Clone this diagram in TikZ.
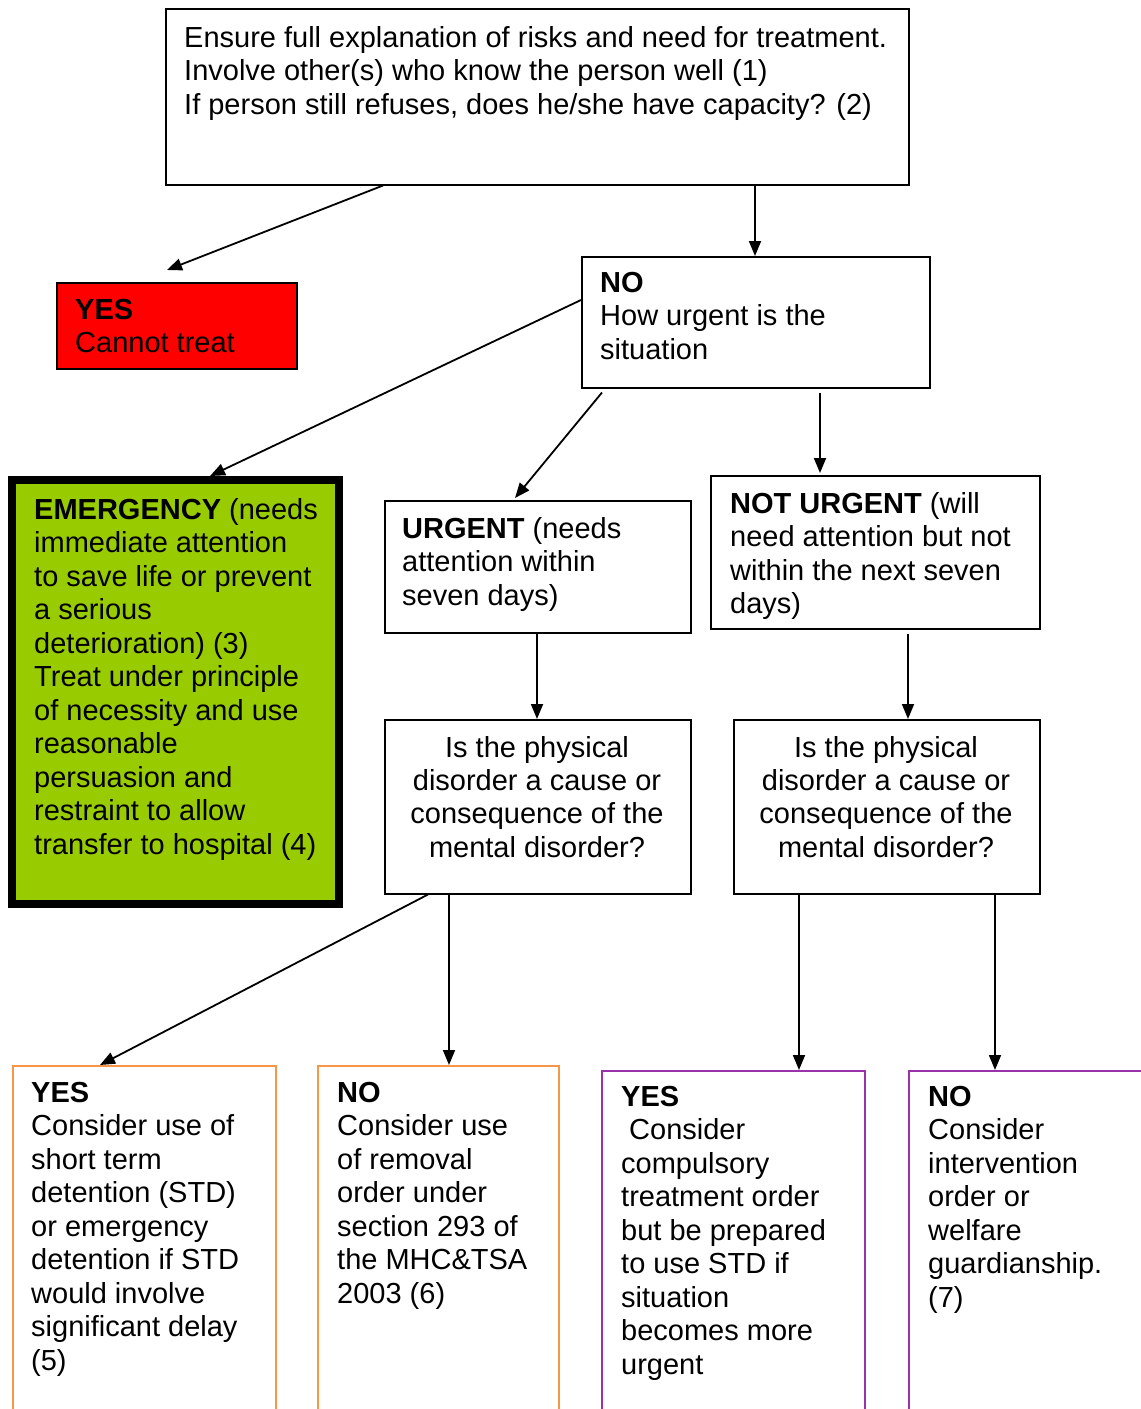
\documentclass[tikz,border=0pt]{standalone}
\usepackage{fontspec}
\setmainfont{Liberation Sans}
\usetikzlibrary{arrows.meta}
\definecolor{redbox}{RGB}{255,0,0}
\definecolor{greenbox}{RGB}{153,204,0}
\definecolor{orangeline}{RGB}{247,150,70}
\definecolor{purpleline}{RGB}{153,51,170}
\newcommand{\lefttext}[1]{\parbox[t]{760pt}{\raggedright #1}}
\newcommand{\centtext}[1]{\parbox[t]{300pt}{\centering #1}}
\tikzset{
  box/.style={draw=black, line width=1.5pt, rectangle, anchor=north west, inner sep=0pt},
  obox/.style={draw=orangeline, line width=1.8pt, rectangle, anchor=north west, inner sep=0pt},
  pbox/.style={draw=purpleline, line width=1.8pt, rectangle, anchor=north west, inner sep=0pt},
  txt/.style={inner sep=0pt, anchor=base west, font=\fontsize{29pt}{33.5pt}\selectfont},
  ctxt/.style={inner sep=0pt, anchor=base, font=\fontsize{29pt}{33.4pt}\selectfont},
  arr/.style={draw=black, line width=1.8pt, -{Triangle[length=15pt,width=12pt]}}
}
\begin{document}
\begin{tikzpicture}[x=1pt,y=-1pt]
\useasboundingbox (0,0) rectangle (1141,1409);
\clip (0,0) rectangle (1141,1409);
\fill[white] (0,0) rectangle (1141,1409);
% boxes
\node[box, minimum width=743pt, minimum height=176pt] (top) at (165,8) {};
\node[box, fill=redbox, minimum width=240pt, minimum height=86pt] (red) at (56,282) {};
\node[box, minimum width=348pt, minimum height=131pt] (no) at (581,256) {};
\node[box, fill=greenbox, line width=8pt, minimum width=327pt, minimum height=424pt] (emg) at (8,476) {};
\node[box, minimum width=306pt, minimum height=132pt] (urg) at (384,500) {};
\node[box, minimum width=329pt, minimum height=153pt] (nurg) at (710,475) {};
\node[box, minimum width=306pt, minimum height=174pt] (q1) at (384,719) {};
\node[box, minimum width=306pt, minimum height=174pt] (q2) at (733,719) {};
\node[obox, minimum width=263pt, minimum height=400pt] (b1) at (12,1065) {};
\node[obox, minimum width=241pt, minimum height=400pt] (b2) at (317,1065) {};
\node[pbox, minimum width=263pt, minimum height=400pt] (b3) at (601,1070) {};
\node[pbox, minimum width=262pt, minimum height=400pt] (b4) at (908,1070) {};
% texts
\node[txt] (ttop) at (184,47) {\lefttext{Ensure full explanation of risks and need for treatment.\\Involve other(s) who know the person well (1)\\If person still refuses, does he/she have capacity? (2)}};
\node[txt] (tred) at (75,319) {\lefttext{\textbf{YES}\\Cannot treat}};
\node[txt] (tno) at (600,292) {\lefttext{\textbf{NO}\\How urgent is the\\situation}};
\node[txt] (temg) at (34,519) {\lefttext{\textbf{EMERGENCY} (needs\\immediate attention\\to save life or prevent\\a serious\\deterioration) (3)\\Treat under principle\\of necessity and use\\reasonable\\persuasion and\\restraint to allow\\transfer to hospital (4)}};
\node[txt] (turg) at (402,538) {\lefttext{\textbf{URGENT} (needs\\attention within\\seven days)}};
\node[txt] (tnurg) at (730,513) {\lefttext{\textbf{NOT URGENT} (will\\need attention but not\\within the next seven\\days)}};
\node[ctxt] (tq1) at (537,757) {\centtext{Is the physical\\disorder a cause or\\consequence of the\\mental disorder?}};
\node[ctxt] (tq2) at (886,757) {\centtext{Is the physical\\disorder a cause or\\consequence of the\\mental disorder?}};
\node[txt] (tb1) at (31,1102) {\lefttext{\textbf{YES}\\Consider use of\\short term\\detention (STD)\\or emergency\\detention if STD\\would involve\\significant delay\\(5)}};
\node[txt] (tb2) at (337,1102) {\lefttext{\textbf{NO}\\Consider use\\of removal\\order under\\section 293 of\\the MHC\&TSA\\2003 (6)}};
\node[txt] (tb3) at (621,1106) {\lefttext{\textbf{YES}\\\hspace*{8pt}Consider\\compulsory\\treatment order\\but be prepared\\to use STD if\\situation\\becomes more\\urgent}};
\node[txt] (tb4) at (928,1106) {\lefttext{\textbf{NO}\\Consider\\intervention\\order or\\welfare\\guardianship.\\(7)}};
% connectors
\draw[arr] ([xshift=218pt]top.south west) -- ([xshift=111pt,yshift=12pt]red.north west);
\draw[arr] ([xshift=590pt]top.south west) -- ([xshift=174pt]no.north west);
\draw[arr] ([yshift=-44pt]no.north west) -- ([xshift=202pt]emg.north west);
\draw[arr] ([xshift=21pt,yshift=-4pt]no.south west) -- ([xshift=131pt,yshift=2pt]urg.north west);
\draw[arr] ([xshift=239pt,yshift=-4pt]no.south west) -- ([xshift=110pt,yshift=2pt]nurg.north west);
\draw[arr] ([xshift=153pt]urg.south west) -- ([xshift=153pt]q1.north west);
\draw[arr] ([xshift=198pt,yshift=-4pt]nurg.south west) -- ([xshift=175pt]q2.north west);
\draw[arr] ([xshift=44pt]q1.south west) -- ([xshift=88pt]b1.north west);
\draw[arr] ([xshift=65pt]q1.south west) -- ([xshift=132pt]b2.north west);
\draw[arr] ([xshift=66pt]q2.south west) -- ([xshift=198pt]b3.north west);
\draw[arr] ([xshift=262pt]q2.south west) -- ([xshift=87pt]b4.north west);
\end{tikzpicture}
\end{document}
